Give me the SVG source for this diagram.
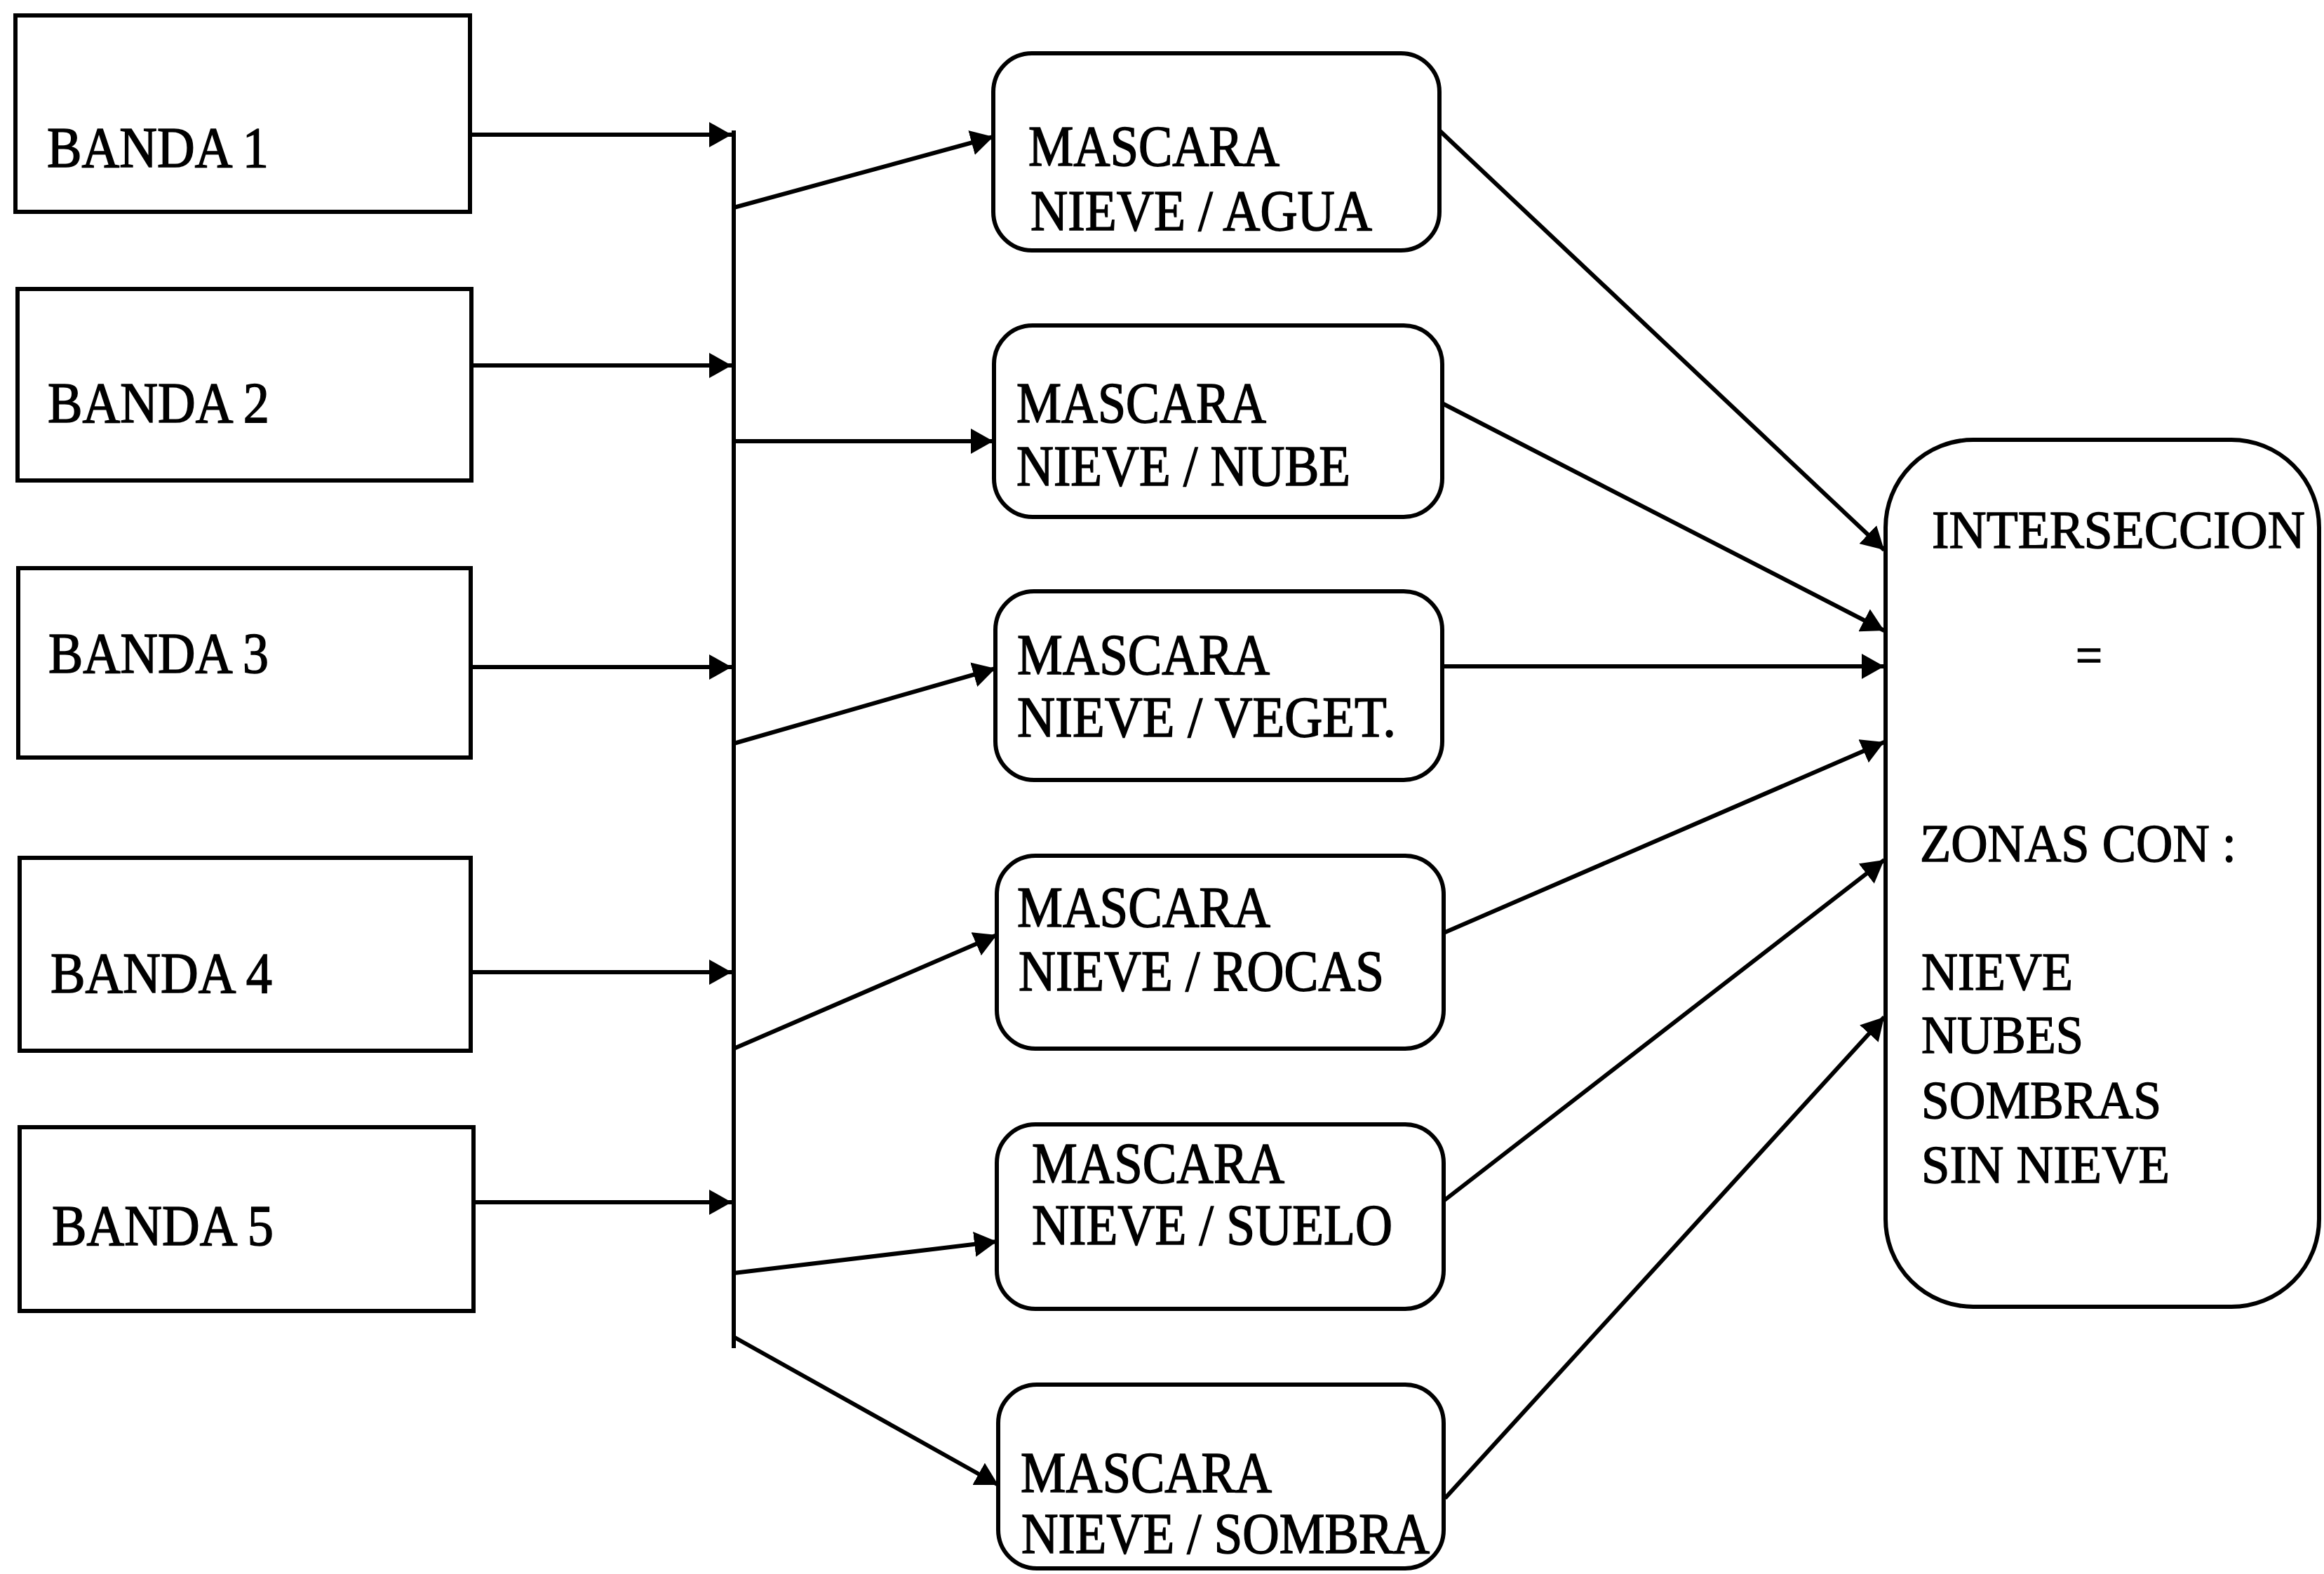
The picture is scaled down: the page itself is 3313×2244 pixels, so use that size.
<svg xmlns="http://www.w3.org/2000/svg" width="3313" height="2244" viewBox="0 0 3313 2244">
<style>
.box{fill:#fff;stroke:#000;stroke-width:6}
.t{font-family:"Liberation Serif","Times New Roman",serif;font-size:82px;fill:#000;stroke:#000;stroke-width:1.6}
.r{font-family:"Liberation Serif","Times New Roman",serif;font-size:76px;fill:#000;stroke:#000;stroke-width:1.4}
.c{fill:none;stroke:#000;stroke-width:6}
</style>
<defs>
<marker id="ah" markerUnits="userSpaceOnUse" markerWidth="32" markerHeight="36" refX="32" refY="18" orient="auto">
<path d="M0,0 L32,18 L0,36 Z" fill="#000"/>
</marker>
</defs>
<rect width="3313" height="2244" fill="#fff"/>
<g id="connectors">
<line class="c" x1="1046" y1="186" x2="1046" y2="1922"/>
<line class="c" x1="670" y1="192" x2="1043" y2="192" marker-end="url(#ah)"/>
<line class="c" x1="672" y1="521" x2="1043" y2="521" marker-end="url(#ah)"/>
<line class="c" x1="671" y1="951" x2="1043" y2="951" marker-end="url(#ah)"/>
<line class="c" x1="671" y1="1386" x2="1043" y2="1386" marker-end="url(#ah)"/>
<line class="c" x1="675" y1="1714" x2="1043" y2="1714" marker-end="url(#ah)"/>
<line class="c" x1="1046" y1="296" x2="1416" y2="195" marker-end="url(#ah)"/>
<line class="c" x1="1046" y1="629" x2="1416" y2="629" marker-end="url(#ah)"/>
<line class="c" x1="1046" y1="1060" x2="1419" y2="953" marker-end="url(#ah)"/>
<line class="c" x1="1046" y1="1495" x2="1421" y2="1333" marker-end="url(#ah)"/>
<line class="c" x1="1046" y1="1815" x2="1421" y2="1770" marker-end="url(#ah)"/>
<line class="c" x1="1046" y1="1906" x2="1423" y2="2117" marker-end="url(#ah)"/>
<line class="c" x1="2052" y1="186" x2="2686" y2="784" marker-end="url(#ah)"/>
<line class="c" x1="2056" y1="575" x2="2686" y2="899" marker-end="url(#ah)"/>
<line class="c" x1="2056" y1="950" x2="2686" y2="950" marker-end="url(#ah)"/>
<line class="c" x1="2058" y1="1330" x2="2686" y2="1058" marker-end="url(#ah)"/>
<line class="c" x1="2058" y1="1712" x2="2686" y2="1226" marker-end="url(#ah)"/>
<line class="c" x1="2060" y1="2136" x2="2686" y2="1450" marker-end="url(#ah)"/>
</g>
<g id="banda1"><rect class="box" x="22" y="22" width="648" height="280"/><text class="t" x="67" y="238" textLength="316" lengthAdjust="spacingAndGlyphs">BANDA 1</text></g>
<g id="banda2"><rect class="box" x="25" y="412" width="647" height="273"/><text class="t" x="68" y="602" textLength="316" lengthAdjust="spacingAndGlyphs">BANDA 2</text></g>
<g id="banda3"><rect class="box" x="26" y="810" width="645" height="270"/><text class="t" x="69" y="959" textLength="314" lengthAdjust="spacingAndGlyphs">BANDA 3</text></g>
<g id="banda4"><rect class="box" x="28" y="1223" width="643" height="275"/><text class="t" x="72" y="1415" textLength="316" lengthAdjust="spacingAndGlyphs">BANDA 4</text></g>
<g id="banda5"><rect class="box" x="28" y="1607" width="647" height="262"/><text class="t" x="74" y="1775" textLength="316" lengthAdjust="spacingAndGlyphs">BANDA 5</text></g>
<g id="mascara1"><rect class="box" x="1416" y="76" width="636" height="281" rx="55"/><text class="t" x="1466" y="236" textLength="358" lengthAdjust="spacingAndGlyphs">MASCARA</text><text class="t" x="1469" y="328" textLength="487" lengthAdjust="spacingAndGlyphs">NIEVE / AGUA</text></g>
<g id="mascara2"><rect class="box" x="1417" y="464" width="639" height="273" rx="55"/><text class="t" x="1449" y="602" textLength="356" lengthAdjust="spacingAndGlyphs">MASCARA</text><text class="t" x="1449" y="692" textLength="476" lengthAdjust="spacingAndGlyphs">NIEVE / NUBE</text></g>
<g id="mascara3"><rect class="box" x="1419" y="843" width="637" height="269" rx="55"/><text class="t" x="1450" y="961" textLength="360" lengthAdjust="spacingAndGlyphs">MASCARA</text><text class="t" x="1450" y="1050" textLength="540" lengthAdjust="spacingAndGlyphs">NIEVE / VEGET.</text></g>
<g id="mascara4"><rect class="box" x="1421" y="1220" width="637" height="275" rx="55"/><text class="t" x="1450" y="1321" textLength="361" lengthAdjust="spacingAndGlyphs">MASCARA</text><text class="t" x="1452" y="1412" textLength="521" lengthAdjust="spacingAndGlyphs">NIEVE / ROCAS</text></g>
<g id="mascara5"><rect class="box" x="1421" y="1603" width="637" height="263" rx="55"/><text class="t" x="1471" y="1686" textLength="360" lengthAdjust="spacingAndGlyphs">MASCARA</text><text class="t" x="1471" y="1774" textLength="514" lengthAdjust="spacingAndGlyphs">NIEVE / SUELO</text></g>
<g id="mascara6"><rect class="box" x="1423" y="1974" width="635" height="262" rx="55"/><text class="t" x="1455" y="2127" textLength="358" lengthAdjust="spacingAndGlyphs">MASCARA</text><text class="t" x="1456" y="2214" textLength="582" lengthAdjust="spacingAndGlyphs">NIEVE / SOMBRA</text></g>
<g id="interseccion"><rect class="box" x="2688" y="627" width="618" height="1236" rx="125"/>
<text class="r" x="2754" y="781" textLength="532" lengthAdjust="spacingAndGlyphs">INTERSECCION</text>
<text class="r" x="2959" y="960" textLength="38" lengthAdjust="spacingAndGlyphs">=</text>
<text class="r" x="2737" y="1228" textLength="451" lengthAdjust="spacingAndGlyphs">ZONAS CON :</text>
<text class="r" x="2739" y="1411" textLength="216" lengthAdjust="spacingAndGlyphs">NIEVE</text>
<text class="r" x="2739" y="1501" textLength="231" lengthAdjust="spacingAndGlyphs">NUBES</text>
<text class="r" x="2739" y="1594" textLength="342" lengthAdjust="spacingAndGlyphs">SOMBRAS</text>
<text class="r" x="2739" y="1686" textLength="354" lengthAdjust="spacingAndGlyphs">SIN NIEVE</text>
</g>
</svg>
